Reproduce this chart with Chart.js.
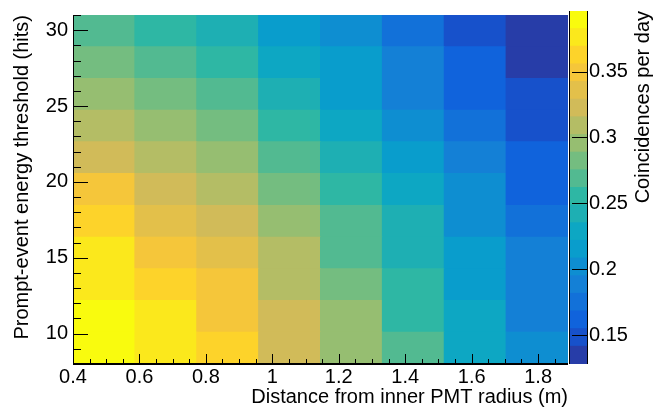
<!DOCTYPE html>
<html>
<head>
<meta charset="utf-8">
<script src="https://cdn.jsdelivr.net/npm/chart.js@4.4.0/dist/chart.umd.min.js"></script>
<style>
  body { margin: 0; background: #fff; }
  #wrap { position: relative; width: 654px; height: 409px; }
  #wrap canvas { position: absolute; left: 0; top: 0; }
</style>
</head>
<body>
<div id="wrap">
  <canvas id="map" width="654" height="409"></canvas>
  <canvas id="bar" width="654" height="409"></canvas>
</div>
<script>
// bin edges
var distanceEdges = [0.4, 0.586, 0.773, 0.959, 1.145, 1.331, 1.518, 1.704, 1.89];
var thresholdEdges = [8, 10.09, 12.18, 14.27, 16.36, 18.45, 20.55, 22.64, 24.73, 26.82, 28.91, 31];

// tick labels
var distanceTicks = [0.4, 0.6, 0.8, 1, 1.2, 1.4, 1.6, 1.8];
var thresholdTicks = [10, 15, 20, 25, 30];
var rateTicks = [0.15, 0.2, 0.25, 0.3, 0.35];

// colour scale range
var rateMin = 0.128, rateMax = 0.396, nContours = 20;

// coincidences per day, one row per threshold bin (lowest threshold first)
var rate = [
  [0.389, 0.376, 0.363, 0.322, 0.296, 0.269, 0.229, 0.202],
  [0.389, 0.376, 0.349, 0.322, 0.296, 0.255, 0.229, 0.188],
  [0.376, 0.363, 0.349, 0.309, 0.282, 0.255, 0.215, 0.188],
  [0.376, 0.349, 0.336, 0.309, 0.269, 0.242, 0.215, 0.188],
  [0.363, 0.336, 0.322, 0.296, 0.269, 0.242, 0.202, 0.175],
  [0.349, 0.322, 0.309, 0.282, 0.255, 0.229, 0.202, 0.162],
  [0.322, 0.309, 0.296, 0.269, 0.242, 0.215, 0.188, 0.162],
  [0.309, 0.296, 0.282, 0.255, 0.229, 0.202, 0.175, 0.148],
  [0.296, 0.282, 0.269, 0.242, 0.215, 0.188, 0.162, 0.148],
  [0.282, 0.269, 0.255, 0.229, 0.215, 0.188, 0.162, 0.135],
  [0.269, 0.255, 0.242, 0.215, 0.202, 0.175, 0.148, 0.135]
];

var FONT = { family: '"Liberation Sans", Arial, sans-serif', size: 20, lineHeight: 1 };

// ROOT kBird palette
var birdStops = [0, 0.125, 0.25, 0.375, 0.5, 0.625, 0.75, 0.875, 1];
var birdR = [0.2082, 0.0592, 0.0780, 0.0232, 0.1802, 0.5301, 0.8186, 0.9956, 0.9764];
var birdG = [0.1664, 0.3599, 0.5041, 0.6419, 0.7178, 0.7492, 0.7328, 0.7862, 0.9832];
var birdB = [0.5293, 0.8684, 0.8385, 0.7914, 0.6425, 0.4662, 0.3499, 0.1968, 0.0539];

function bird(t) {
	var i = 0;
	while (i < birdStops.length - 2 && t > birdStops[i + 1]) i++;
	var f = (t - birdStops[i]) / (birdStops[i + 1] - birdStops[i]);
	var c = function (arr) { return Math.round(255 * (arr[i] + (arr[i + 1] - arr[i]) * f)); };
	return 'rgb(' + c(birdR) + ',' + c(birdG) + ',' + c(birdB) + ')';
}

function contourColor(v) {
	var k = Math.floor((v - rateMin) / (rateMax - rateMin) * nContours);
	k = Math.max(0, Math.min(nContours - 1, k));
	var idx = Math.floor((k + 0.99) * 255 / nContours);
	return bird(idx / 254);
}

function fixedTicks(list) {
	return function (scale) {
		scale.ticks = list.map(function (v) { return { value: v }; });
	};
}

function label(v) { return String(v); }

var cellOpts = { grouped: false, barPercentage: 1, categoryPercentage: 1, borderWidth: 0, inflateAmount: 0.5 };

// inside tick marks and frame, ROOT style
var mapFrame = {
	id: 'mapFrame',
	afterDatasetsDraw: function (chart) {
		var ctx = chart.ctx, a = chart.chartArea;
		var xs = chart.scales.xd, ys = chart.scales.y;
		ctx.save();
		ctx.strokeStyle = '#000';
		ctx.lineWidth = 1;
		ctx.beginPath();
		for (var k = 0; ; k++) {
			var xv = distanceTicks[0] + k * 0.05;
			if (xv > distanceEdges[distanceEdges.length - 1] + 1e-9) break;
			var px = Math.round(xs.getPixelForValue(xv)) + 0.5;
			var len = (k % 4 === 0) ? 10 : 5;
			ctx.moveTo(px, a.bottom);
			ctx.lineTo(px, a.bottom - len);
		}
		for (var yv = Math.ceil(thresholdEdges[0]); yv <= thresholdEdges[thresholdEdges.length - 1]; yv++) {
			var py = Math.round(ys.getPixelForValue(yv)) + 0.5;
			var ylen = (yv % 5 === 0) ? 15 : 8;
			ctx.moveTo(a.left, py);
			ctx.lineTo(a.left + ylen, py);
		}
		ctx.stroke();
		ctx.beginPath();
		ctx.moveTo(Math.round(a.left) + 0.5, a.top);
		ctx.lineTo(Math.round(a.left) + 0.5, a.bottom);
		ctx.stroke();
		ctx.lineWidth = 2;
		ctx.beginPath();
		ctx.moveTo(a.left, Math.round(a.bottom));
		ctx.lineTo(a.right, Math.round(a.bottom));
		ctx.stroke();
		ctx.restore();
	}
};

var mapSets = rate.map(function (row, r) {
	return Object.assign({
		data: row.map(function () { return [thresholdEdges[r], thresholdEdges[r + 1]]; }),
		backgroundColor: row.map(contourColor),
		xAxisID: 'x',
		yAxisID: 'y'
	}, cellOpts);
});

new Chart(document.getElementById('map'), {
	type: 'bar',
	data: {
		labels: distanceEdges.slice(1).map(function (v, i) { return 'd' + i; }),
		datasets: mapSets
	},
	options: {
		responsive: false,
		devicePixelRatio: 1,
		animation: false,
		events: [],
		layout: { padding: { left: 0, top: 8, right: 86, bottom: 0 } },
		plugins: { legend: { display: false }, tooltip: { enabled: false } },
		scales: {
			x: { type: 'category', display: false, offset: true },
			xd: {
				type: 'linear', axis: 'x', position: 'bottom', offset: false,
				min: distanceEdges[0], max: distanceEdges[distanceEdges.length - 1],
				afterBuildTicks: fixedTicks(distanceTicks),
				afterFit: function (s) { s.height = 45; },
				grid: { display: false, drawTicks: false, offset: false },
				border: { display: false },
				ticks: { padding: 3, color: '#000', font: FONT, maxRotation: 0, autoSkip: false, callback: label },
				title: {
					display: true, text: 'Distance from inner PMT radius (m)', align: 'end',
					color: '#000', font: FONT, padding: { top: 0, bottom: 2 }
				}
			},
			y: {
				type: 'linear', position: 'left',
				min: thresholdEdges[0], max: thresholdEdges[thresholdEdges.length - 1],
				afterBuildTicks: fixedTicks(thresholdTicks),
				afterFit: function (s) { s.width = 73; },
				grid: { display: false, drawTicks: false },
				border: { display: false },
				ticks: { padding: 5, color: '#000', font: FONT, autoSkip: false, callback: label },
				title: {
					display: true, text: 'Prompt-event energy threshold (hits)', align: 'end',
					color: '#000', font: FONT, padding: { top: 12, bottom: 0 }
				}
			}
		}
	},
	plugins: [mapFrame]
});

// colour bar
var bandStep = (rateMax - rateMin) / nContours;
var barSets = [];
for (var k = 0; k < nContours; k++) {
	barSets.push(Object.assign({
		data: [[rateMin + k * bandStep, rateMin + (k + 1) * bandStep]],
		backgroundColor: contourColor(rateMin + (k + 0.5) * bandStep),
		xAxisID: 'x',
		yAxisID: 'z'
	}, cellOpts));
}

var barFrame = {
	id: 'barFrame',
	afterDatasetsDraw: function (chart) {
		var ctx = chart.ctx, a = chart.chartArea, zs = chart.scales.z;
		ctx.save();
		ctx.strokeStyle = '#000';
		ctx.lineWidth = 1;
		ctx.beginPath();
		rateTicks.forEach(function (v) {
			var py = Math.round(zs.getPixelForValue(v)) + 0.5;
			ctx.moveTo(a.right, py);
			ctx.lineTo(a.right - 16, py);
		});
		ctx.moveTo(Math.round(a.left) + 0.5, a.top);
		ctx.lineTo(Math.round(a.left) + 0.5, a.bottom);
		ctx.moveTo(Math.round(a.right) - 0.5, a.top);
		ctx.lineTo(Math.round(a.right) - 0.5, a.bottom);
		ctx.stroke();
		// axis title, reads bottom to top
		ctx.translate(643, a.top);
		ctx.rotate(-Math.PI / 2);
		ctx.fillStyle = '#000';
		ctx.font = '20px "Liberation Sans", Arial, sans-serif';
		ctx.textAlign = 'right';
		ctx.textBaseline = 'middle';
		ctx.fillText('Coincidences per day', 0, 0);
		ctx.restore();
	}
};

new Chart(document.getElementById('bar'), {
	type: 'bar',
	data: { labels: ['z'], datasets: barSets },
	options: {
		responsive: false,
		devicePixelRatio: 1,
		animation: false,
		events: [],
		layout: { padding: { left: 569, top: 8, right: 0, bottom: 45 } },
		plugins: { legend: { display: false }, tooltip: { enabled: false } },
		scales: {
			x: { type: 'category', display: false, offset: true },
			z: {
				type: 'linear', axis: 'y', position: 'right', min: rateMin, max: rateMax,
				afterBuildTicks: fixedTicks(rateTicks),
				afterFit: function (s) { s.width = 66; },
				grid: { display: false, drawTicks: false },
				border: { display: false },
				ticks: { padding: 1, color: '#000', font: FONT, autoSkip: false, callback: label }
			}
		}
	},
	plugins: [barFrame]
});
</script>
</body>
</html>
